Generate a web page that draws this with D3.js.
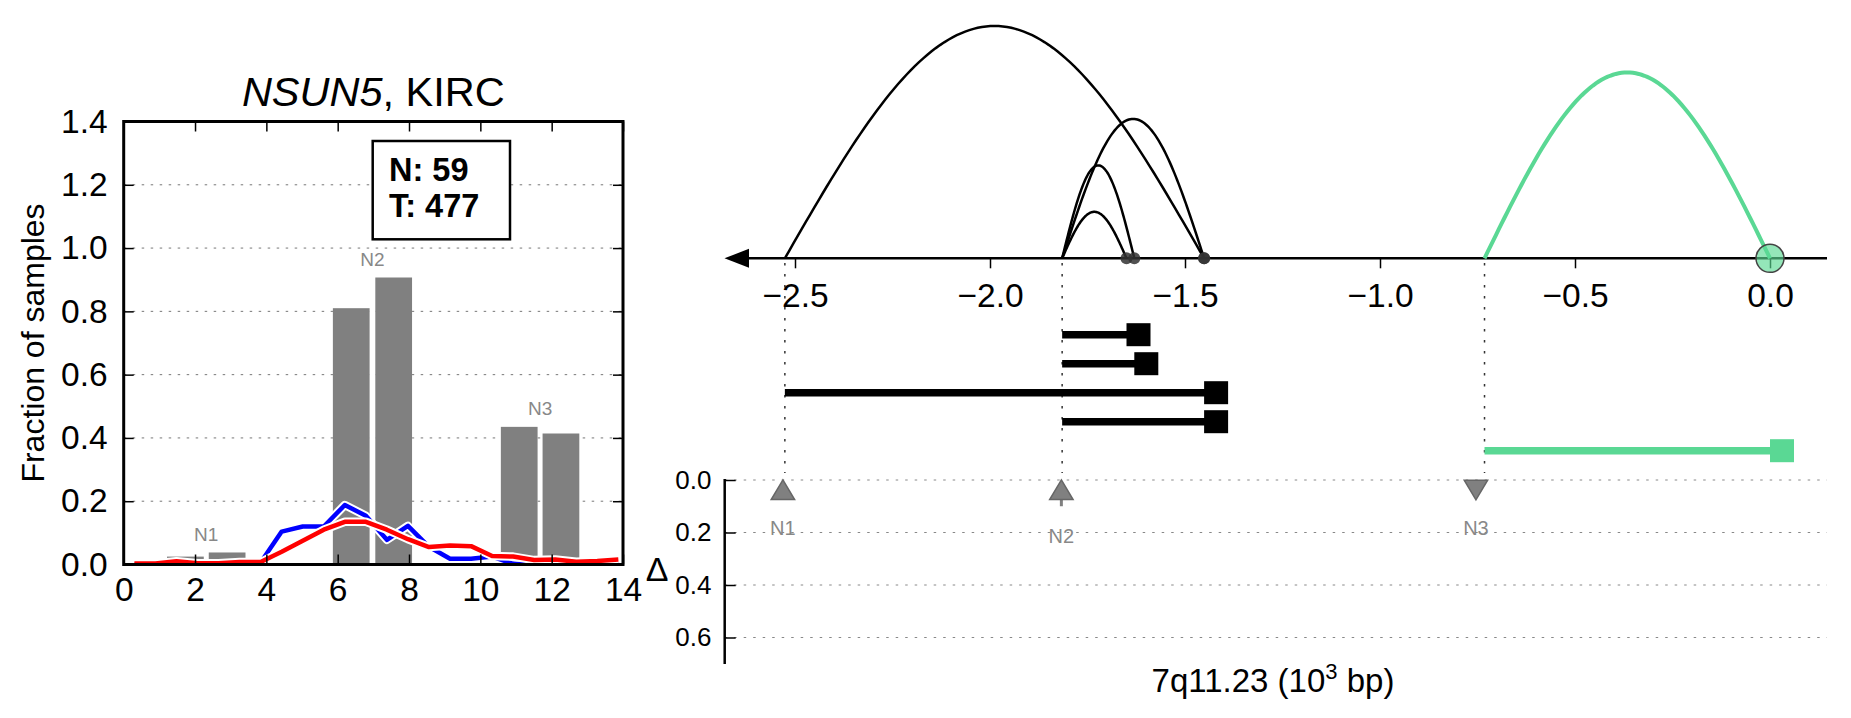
<!DOCTYPE html>
<html><head><meta charset="utf-8">
<script src="https://cdn.jsdelivr.net/npm/d3@7"></script>
<style>
body{margin:0;background:#fff;}
svg{display:block;font-family:"Liberation Sans",Arial,Helvetica,sans-serif;}
</style></head><body>
<svg id="c" width="1851" height="718"></svg>
<script>
// ================= DATA: left panel =================
const binX = [0.30,0.89,1.48,2.07,2.66,3.25,3.84,4.43,5.02,5.61,6.20,6.79,7.38,7.97,8.56,9.15,9.74,10.33,10.92,11.51,12.10,12.69,13.28,13.87];
const blueFrac = [0,0,0,0,0,0,0.006,0.104,0.120,0.120,0.188,0.154,0.078,0.122,0.056,0.018,0.018,0.025,0.002,0,0,0,0,0];
const redFrac = [0.003,0.003,0.010,0.004,0.004,0.008,0.008,0.040,0.075,0.110,0.135,0.135,0.110,0.080,0.055,0.060,0.058,0.027,0.025,0.014,0.016,0.009,0.011,0.016];
const barX = [1.73,2.90,6.38,7.57,11.09,12.26];
const barFrac = [0.025,0.038,0.810,0.907,0.435,0.414];
const barGroup = ["N1","N1","N2","N2","N3","N3"];
const leftXTicks = [0,2,4,6,8,10,12,14];
const leftYTicks = [0,0.2,0.4,0.6,0.8,1.0,1.2,1.4];
const legendLines = ["N: 59","T: 477"];
const titleGene = "NSUN5", titleRest = ", KIRC";
const yLabel = "Fraction of samples";

// ================= DATA: right panel =================
const arcStart  = [-2.526,-1.815,-1.815,-1.815,-0.732];
const arcEnd    = [-1.451,-1.650,-1.630,-1.451, 0.000];
const arcHeight = [1.0, 0.2, 0.4, 0.6, 0.8];
const arcKind   = ["black","black","black","black","green"];
const rowOrder  = [1,2,0,3,4];
const breakName = ["N1","N2","N3"];
const breakX    = [-2.531,-1.817,-0.754];
const breakGuideX = [-2.526,-1.815,-0.732];
const breakDelta = [0.037,0.037,0.038];
const breakDir   = ["up","up","down"];
const breakErr   = [0.075,0.100,0.038];
const breakLabelDelta = [0.21,0.24,0.21];
const rightXTicks = [-2.5,-2.0,-1.5,-1.0,-0.5,0.0];
const deltaTicks = [0,0.2,0.4,0.6];
const xLabelMain = "7q11.23 (10", xLabelSup = "3", xLabelEnd = " bp)";

// ================= DRAW =================
const svg = d3.select("#c");
const GREEN = "#5ad894";
const fmt = d3.format(".1f");

// ---------- left panel ----------
const xL = d3.scaleLinear([0,14],[123.7,623]);
const yL = d3.scaleLinear([0,1.4],[564.5,121.5]);
const L = svg.append("g");
svg.append("defs").append("clipPath").attr("id","clipL").append("rect")
  .attr("x",xL(0)).attr("y",yL(1.4)).attr("width",xL(14)-xL(0)).attr("height",yL(0)-yL(1.4));

L.selectAll("line.grid").data(leftYTicks.filter(v=>v>0&&v<1.4)).join("line")
  .attr("class","grid")
  .attr("x1",xL(0)).attr("x2",xL(14)).attr("y1",d=>yL(d)).attr("y2",d=>yL(d))
  .attr("stroke","#777").attr("stroke-width",1).attr("stroke-dasharray","2.5,6.5");

const bw = 1.03;
L.selectAll("rect.bar").data(barX).join("rect").attr("class","bar")
  .attr("x",d=>xL(d-bw/2)).attr("width",xL(bw)-xL(0))
  .attr("y",(d,i)=>yL(barFrac[i])).attr("height",(d,i)=>yL(0)-yL(barFrac[i]))
  .attr("fill","#808080");

const grp = d3.groups(barX.map((x,i)=>({x,v:barFrac[i],g:barGroup[i]})), d=>d.g);
grp.forEach(([name,arr])=>{
  L.append("text").attr("x",xL(d3.mean(arr,d=>d.x))).attr("y",yL(d3.max(arr,d=>d.v)+0.037))
   .attr("text-anchor","middle").attr("font-size",19).attr("fill","#888").text(name);
});

const lineGen = d3.line().x((d,i)=>xL(binX[i])).y(d=>yL(d));
const LL = L.append("g").attr("clip-path","url(#clipL)");
[[blueFrac,"#0000ff"],[redFrac,"#ff0000"]].forEach(([s,c])=>{
  LL.append("path").attr("d",lineGen(s)).attr("fill","none").attr("stroke","#fff")
    .attr("stroke-width",8.5).attr("stroke-linejoin","round");
  LL.append("path").attr("d",lineGen(s)).attr("fill","none").attr("stroke",c)
    .attr("stroke-width",4.5).attr("stroke-linejoin","round");
});

// legend box
L.append("rect").attr("x",372.7).attr("y",141).attr("width",137.3).attr("height",98.3)
  .attr("fill","#fff").attr("stroke","#000").attr("stroke-width",2.5);
legendLines.forEach((t,i)=>{
  L.append("text").attr("x",389).attr("y",181+i*36).attr("font-size",32.5)
   .attr("font-weight","bold").text(t);
});

// axes (inward ticks)
function styleAxis(g,fs){
  g.select(".domain").remove();
  g.selectAll(".tick line").attr("stroke","#000").attr("stroke-width",1.5);
  g.selectAll(".tick text").attr("font-size",fs).attr("fill","#000")
   .attr("font-family","Liberation Sans, Arial, sans-serif");
}
L.append("g").attr("transform",`translate(0,${yL(0)})`)
  .call(d3.axisBottom(xL).tickValues(leftXTicks).tickFormat(d3.format("d")).tickSize(-10).tickPadding(13))
  .call(g=>styleAxis(g,33.5));
L.append("g").attr("transform",`translate(0,${yL(1.4)})`)
  .call(d3.axisTop(xL).tickValues(leftXTicks).tickFormat("").tickSize(-10))
  .call(g=>styleAxis(g,33));
L.append("g").attr("transform",`translate(${xL(0)},0)`)
  .call(d3.axisLeft(yL).tickValues(leftYTicks).tickFormat(fmt).tickSize(-10).tickPadding(16))
  .call(g=>styleAxis(g,33.5));
L.append("g").attr("transform",`translate(${xL(14)},0)`)
  .call(d3.axisRight(yL).tickValues(leftYTicks).tickFormat("").tickSize(-10))
  .call(g=>styleAxis(g,33));

L.append("rect").attr("x",xL(0)).attr("y",yL(1.4)).attr("width",xL(14)-xL(0)).attr("height",yL(0)-yL(1.4))
  .attr("fill","none").attr("stroke","#000").attr("stroke-width",3);

const title = L.append("text").attr("x",(xL(0)+xL(14))/2).attr("y",106)
  .attr("text-anchor","middle").attr("font-size",41.5);
title.append("tspan").attr("font-style","italic").text(titleGene);
title.append("tspan").text(titleRest);

L.append("text").attr("transform",`translate(44,${(yL(0)+yL(1.4))/2}) rotate(-90)`)
  .attr("text-anchor","middle").attr("font-size",32).text(yLabel);

// ---------- right panel ----------
const xR = d3.scaleLinear([-2.5,0],[795,1770]);
const yArc = d3.scaleLinear([0,1],[258.3,26]);
const yD = d3.scaleLinear([0,0.7],[480,663.75]);
const R = svg.append("g");

// delta grid
R.selectAll("line.dgrid").data(deltaTicks).join("line").attr("class","dgrid")
  .attr("x1",724.7).attr("x2",1827).attr("y1",d=>yD(d)).attr("y2",d=>yD(d))
  .attr("stroke","#888").attr("stroke-width",1).attr("stroke-dasharray","2.5,7");

// dotted guides
R.selectAll("line.guide").data(breakGuideX).join("line").attr("class","guide")
  .attr("x1",d=>xR(d)).attr("x2",d=>xR(d)).attr("y1",263).attr("y2",473)
  .attr("stroke","#333").attr("stroke-width",1.5).attr("stroke-dasharray","2.5,8.5");

// main axis line + arrow
R.append("line").attr("x1",740).attr("x2",1827).attr("y1",yArc(0)).attr("y2",yArc(0))
  .attr("stroke","#000").attr("stroke-width",2.5);
R.append("path").attr("d",`M724.5,${yArc(0)}L749,${yArc(0)-9.5}L749,${yArc(0)+9.5}Z`).attr("fill","#000");
R.append("g").attr("transform",`translate(0,${yArc(0)})`)
  .call(d3.axisBottom(xR).tickValues(rightXTicks).tickFormat(fmt).tickSize(10).tickPadding(15))
  .call(g=>styleAxis(g,33.5));

// arcs
const ts = d3.range(0,1.0001,0.01);
arcStart.forEach((s,i)=>{
  const e = arcEnd[i], h = arcHeight[i];
  const p = d3.line().x(t=>xR(s+(e-s)*t)).y(t=>yArc(h*Math.sin(Math.PI*t)))(ts);
  R.append("path").attr("d",p).attr("fill","none")
    .attr("stroke",arcKind[i]==="green"?GREEN:"#000")
    .attr("stroke-width",arcKind[i]==="green"?4:2.5);
});
// end circles
arcEnd.forEach((e,i)=>{
  if(arcKind[i]==="green"){
    R.append("circle").attr("cx",xR(e)).attr("cy",yArc(0)).attr("r",14)
      .attr("fill",GREEN).attr("fill-opacity",0.65).attr("stroke","#444").attr("stroke-width",1.5);
  } else {
    R.append("circle").attr("cx",xR(e)).attr("cy",yArc(0)).attr("r",6)
      .attr("fill","#333").attr("fill-opacity",0.85);
  }
});

// lollipop rows
const yRow = d3.scalePoint().domain(d3.range(rowOrder.length)).range([334.7,450.7]);
rowOrder.forEach((ai,k)=>{
  const c = arcKind[ai]==="green"?GREEN:"#000";
  const y = yRow(k);
  R.append("line").attr("x1",xR(arcStart[ai])).attr("x2",xR(arcEnd[ai])+4).attr("y1",y).attr("y2",y)
    .attr("stroke",c).attr("stroke-width",7.5);
  R.append("rect").attr("x",xR(arcEnd[ai])).attr("y",y-11.5).attr("width",24).attr("height",23).attr("fill",c);
});

// delta axis
R.append("line").attr("x1",724.7).attr("x2",724.7).attr("y1",479).attr("y2",664)
  .attr("stroke","#000").attr("stroke-width",2.5);
R.append("g").attr("transform","translate(724.7,0)")
  .call(d3.axisLeft(yD).tickValues(deltaTicks).tickFormat(fmt).tickSize(-11).tickPadding(13.3))
  .call(g=>styleAxis(g,26));
R.append("text").attr("x",657).attr("y",581).attr("text-anchor","middle").attr("font-size",34).text("Δ");

// break markers
breakX.forEach((bx,i)=>{
  const cx = xR(bx), cy = yD(breakDelta[i]);
  R.append("line").attr("x1",cx).attr("x2",cx).attr("y1",cy).attr("y2",yD(breakErr[i]))
    .attr("stroke","#808080").attr("stroke-width",3);
  const hh = 9.8, hw = 11.7;
  const d = breakDir[i]==="up"
    ? `M${cx},${cy-hh}L${cx+hw},${cy+hh}L${cx-hw},${cy+hh}Z`
    : `M${cx-hw},${cy-hh}L${cx+hw},${cy-hh}L${cx},${cy+hh}Z`;
  R.append("path").attr("d",d).attr("fill","#808080").attr("stroke","#666").attr("stroke-width",1.5);
  R.append("text").attr("x",cx).attr("y",yD(breakLabelDelta[i])).attr("text-anchor","middle")
    .attr("font-size",20).attr("fill","#888").text(breakName[i]);
});

// x label
const xl = R.append("text").attr("x",1273).attr("y",691.7).attr("text-anchor","middle").attr("font-size",33);
xl.append("tspan").text(xLabelMain);
xl.append("tspan").attr("font-size",22).attr("dy",-13).text(xLabelSup);
xl.append("tspan").attr("dy",13).text(xLabelEnd);
</script>
</body></html>
